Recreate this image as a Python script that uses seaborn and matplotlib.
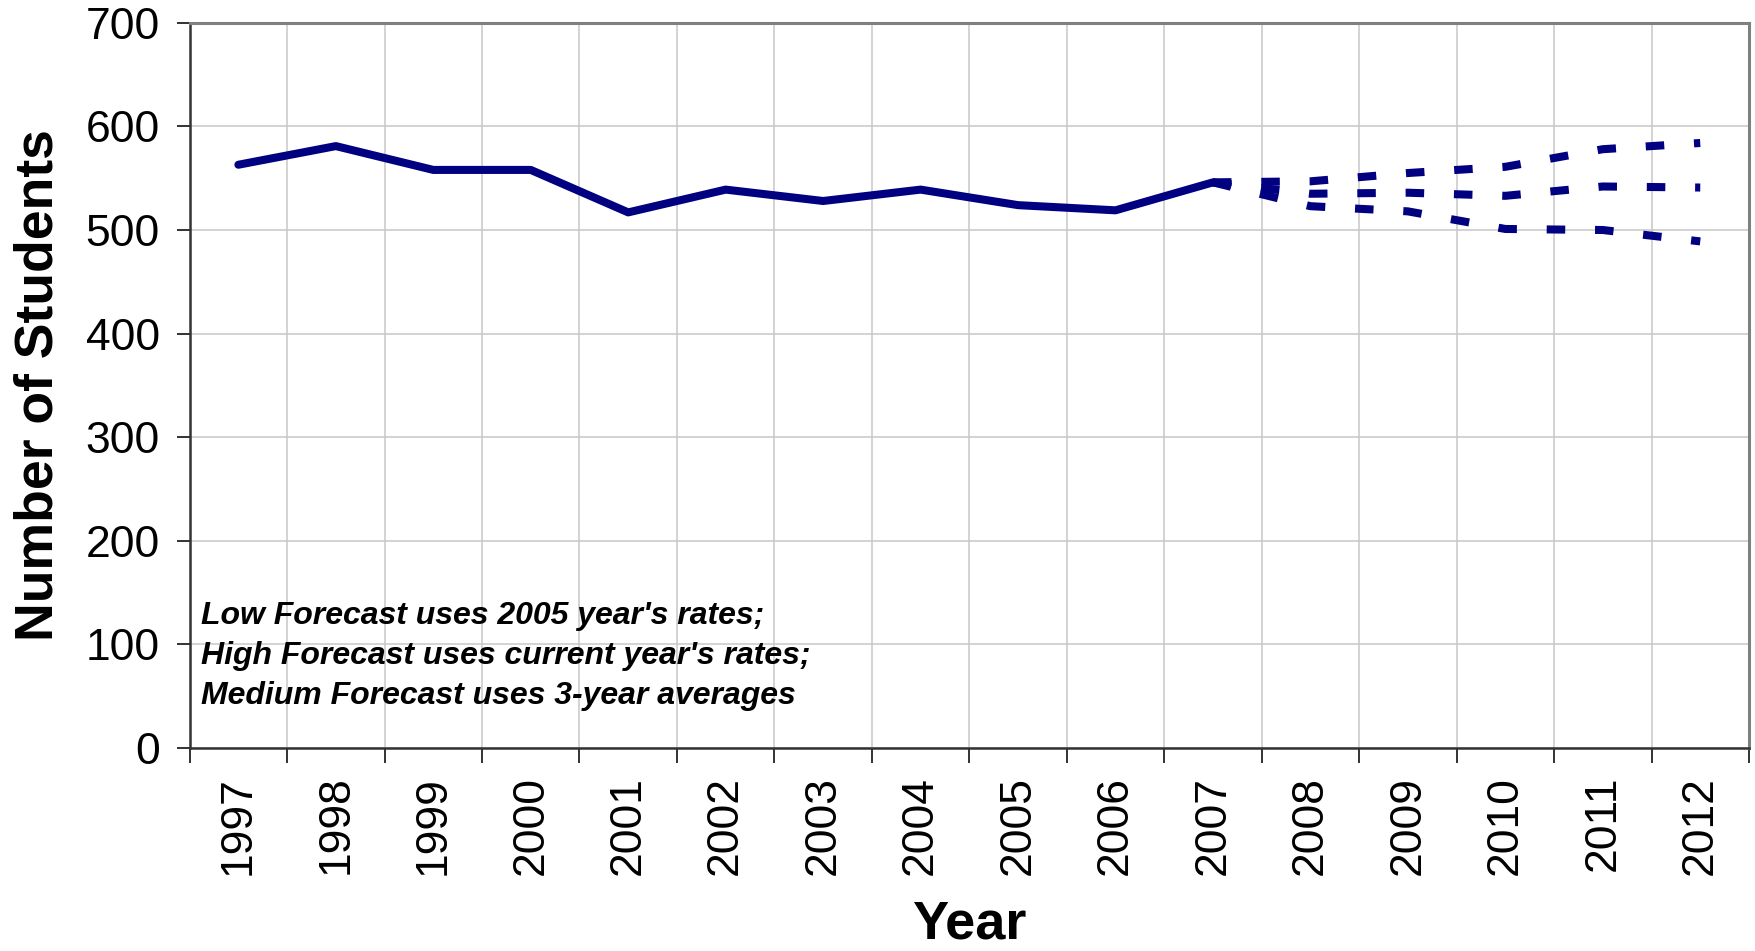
import pandas as pd
import seaborn as sns
import matplotlib.pyplot as plt
from matplotlib.ticker import FixedLocator, NullFormatter, FixedFormatter

years = list(range(1997, 2008))
students = [563, 581, 558, 558, 517, 539, 528, 539, 524, 519, 546]
forecast_years = list(range(2007, 2013))
high_forecast = [546, 547, 555, 561, 578, 584]
medium_forecast = [546, 535, 536, 533, 542, 541]
low_forecast = [546, 523, 518, 501, 500, 489]
year_labels = [str(y) for y in range(1997, 2013)]
note = ("Low Forecast uses 2005 year's rates;\n"
        "High Forecast uses current year's rates;\n"
        "Medium Forecast uses 3-year averages")

frames = [pd.DataFrame({'year': years, 'students': students, 'series': 'Actual'})]
for name, vals in [('High', high_forecast), ('Medium', medium_forecast), ('Low', low_forecast)]:
    frames.append(pd.DataFrame({'year': forecast_years, 'students': vals, 'series': name}))
df = pd.concat(frames, ignore_index=True)

sns.set_style('white')
plt.rcParams['font.family'] = ['Liberation Sans', 'DejaVu Sans']
plt.rcParams['text.color'] = 'black'
plt.rcParams['axes.labelcolor'] = 'black'
plt.rcParams['xtick.color'] = 'black'
plt.rcParams['ytick.color'] = 'black'

fig = plt.figure(figsize=(17.56, 9.51), dpi=100)
ax = fig.add_axes([0.108, 0.2135, 0.888, 0.7625])

navy = '#000080'
sq_dot = (2.3, 3.7)
sns.lineplot(data=df, x='year', y='students', hue='series', style='series',
             palette={'Actual': navy, 'High': navy, 'Medium': navy, 'Low': navy},
             dashes={'Actual': '', 'High': sq_dot, 'Medium': sq_dot, 'Low': sq_dot},
             linewidth=5.8, legend=False, ax=ax)

ax.set_xlim(1996.5, 2012.5)
ax.set_ylim(0, 700)
ax.set_yticks(range(0, 701, 100))

# category boundaries carry ticks and gridlines, labels sit at centers
ax.xaxis.set_major_locator(FixedLocator([1996.5 + k for k in range(17)]))
ax.xaxis.set_major_formatter(NullFormatter())
ax.xaxis.set_minor_locator(FixedLocator(list(range(1997, 2013))))
ax.xaxis.set_minor_formatter(FixedFormatter(year_labels))

ax.grid(True, which='major', color='#c8c8c8', linewidth=1.1)
ax.tick_params(axis='x', which='major', direction='out', length=11, width=1.3,
               color='#222222', bottom=True)
ax.tick_params(axis='x', which='minor', length=0, labelsize=32, pad=20,
               labelrotation=90, bottom=True)
ax.tick_params(axis='y', direction='out', length=9.5, width=1.3, color='#222222',
               labelsize=32, pad=12, left=True)

for side in ['left', 'bottom']:
    ax.spines[side].set_color('#333333')
    ax.spines[side].set_linewidth(1.8)
for side in ['top', 'right']:
    ax.spines[side].set_color('#808080')
    ax.spines[side].set_linewidth(2.2)

ax.set_xlabel('Year', fontsize=39, fontweight='bold', labelpad=18)
ax.set_ylabel('Number of Students', fontsize=38.5, fontweight='bold', labelpad=16)

ax.text(0.007, 0.127, note, transform=ax.transAxes, fontsize=23,
        fontweight='bold', fontstyle='italic', va='center', ha='left',
        linespacing=1.43)

fig.savefig('out.png', dpi=100)
